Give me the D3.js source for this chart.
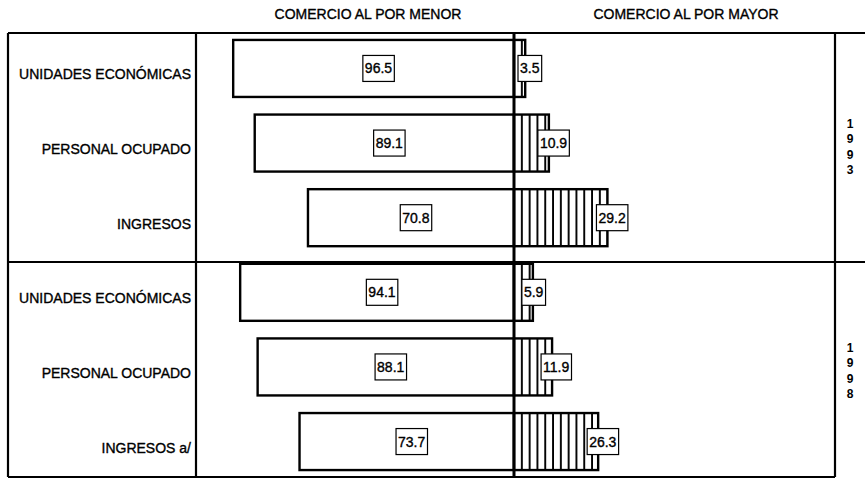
<!DOCTYPE html>
<html lang="es">
<head>
    <meta charset="UTF-8">
    <script src="https://d3js.org/d3.v7.min.js"></script>
    <style>
        body { margin: 0; background: #fff; }
        text { font-family: "Liberation Sans", Arial, sans-serif; fill: #000; stroke: #000; stroke-width: 0.35px; }
    </style>
</head>
<body>
    <div id="chart"></div>

    <script>
        // data
        var rowLabels = ["UNIDADES ECONÓMICAS", "PERSONAL OCUPADO", "INGRESOS",
                         "UNIDADES ECONÓMICAS", "PERSONAL OCUPADO", "INGRESOS a/"];
        var rowYears = ["1993", "1993", "1993", "1998", "1998", "1998"];
        var years = ["1993", "1998"];
        var porMenor = [96.5, 89.1, 70.8, 94.1, 88.1, 73.7];
        var porMayor = [3.5, 10.9, 29.2, 5.9, 11.9, 26.3];
        var headers = ["COMERCIO AL POR MENOR", "COMERCIO AL POR MAYOR"];

        var width = 865, height = 480;
        var frame = { left: 8, top: 33, right: 835, bottom: 477, labelEdge: 196 };
        var axisX = 514;

        var rows = rowLabels.map(function (d, i) {
            return { id: i, label: d, year: rowYears[i], menor: porMenor[i], mayor: porMayor[i] };
        });

        var svg = d3.select("#chart")
            .append("svg")
            .attr("width", width)
            .attr("height", height);

        // vertical stripes for the wholesale bars
        var pattern = svg.append("defs").append("pattern")
            .attr("id", "stripes")
            .attr("patternUnits", "userSpaceOnUse")
            .attr("x", axisX + 1)
            .attr("width", 7.8)
            .attr("height", 10);
        pattern.append("rect").attr("width", 7.8).attr("height", 10).attr("fill", "#fff");
        pattern.append("line")
            .attr("x1", 7).attr("x2", 7).attr("y1", 0).attr("y2", 10)
            .attr("stroke", "#000").attr("stroke-width", 2.2);

        var y = d3.scaleBand()
            .domain(rows.map(function (d) { return d.id; }))
            .range([frame.top, frame.bottom])
            .paddingInner(0.236)
            .paddingOuter(0.093);

        var xLeft = d3.scaleLinear().domain([0, 100]).range([axisX, axisX - 291]);
        var xRight = d3.scaleLinear().domain([0, 100]).range([axisX, axisX + 320]);

        // header texts
        svg.selectAll(".header")
            .data(headers)
            .enter().append("text")
            .attr("x", function (d, i) { return i === 0 ? 368 : 686; })
            .attr("y", 19)
            .attr("text-anchor", "middle")
            .style("font-size", "14px")
            .text(function (d) { return d; });

        // left (retail) bars
        svg.selectAll(".menor")
            .data(rows)
            .enter().append("rect")
            .attr("x", function (d) { return xLeft(d.menor); })
            .attr("y", function (d) { return y(d.id); })
            .attr("width", function (d) { return axisX - xLeft(d.menor); })
            .attr("height", y.bandwidth())
            .attr("fill", "#fff")
            .attr("stroke", "#000")
            .attr("stroke-width", 2.4);

        // right (wholesale) bars
        svg.selectAll(".mayor")
            .data(rows)
            .enter().append("rect")
            .attr("x", axisX)
            .attr("y", function (d) { return y(d.id); })
            .attr("width", function (d) { return xRight(d.mayor) - axisX; })
            .attr("height", y.bandwidth())
            .attr("fill", "url(#stripes)")
            .attr("stroke", "#000")
            .attr("stroke-width", 2.4);

        // frame lines
        var lines = [
            [frame.left, frame.top, width, frame.top],
            [frame.left, 262, width, 262],
            [frame.left, frame.bottom, frame.right, frame.bottom],
            [frame.left, frame.top, frame.left, frame.bottom],
            [frame.labelEdge, frame.top, frame.labelEdge, frame.bottom],
            [frame.right, frame.top, frame.right, frame.bottom]
        ];
        svg.selectAll(".frame")
            .data(lines)
            .enter().append("line")
            .attr("x1", function (d) { return d[0]; })
            .attr("y1", function (d) { return d[1]; })
            .attr("x2", function (d) { return d[2]; })
            .attr("y2", function (d) { return d[3]; })
            .attr("stroke", "#000")
            .attr("stroke-width", 2.2);

        svg.append("line")
            .attr("x1", axisX).attr("x2", axisX)
            .attr("y1", frame.top).attr("y2", frame.bottom)
            .attr("stroke", "#000")
            .attr("stroke-width", 3);

        // row labels
        svg.selectAll(".rowlabel")
            .data(rows)
            .enter().append("text")
            .attr("x", 191)
            .attr("y", function (d) { return y(d.id) + y.bandwidth() / 2 + 11; })
            .attr("text-anchor", "end")
            .style("font-size", "14px")
            .text(function (d) { return d.label; });

        // boxed value labels
        function valueBox(cx, cy, txt, anchorLeft) {
            var g = svg.append("g");
            var t = g.append("text")
                .attr("y", cy + 5)
                .style("font-size", "14px")
                .text(txt);
            var w = t.node().getBBox().width + 4;
            var x0 = anchorLeft ? cx : cx - w / 2;
            t.attr("x", x0 + 2);
            g.insert("rect", "text")
                .attr("x", x0)
                .attr("y", cy - 13)
                .attr("width", w)
                .attr("height", 26)
                .attr("fill", "#fff")
                .attr("stroke", "#000")
                .attr("stroke-width", 1.2);
        }

        rows.forEach(function (d) {
            var cy = y(d.id) + y.bandwidth() / 2;
            valueBox((xLeft(d.menor) + axisX) / 2 + 5, cy, d.menor.toFixed(1), false);
            valueBox(Math.max(xRight(d.mayor) - 11, axisX + 4), cy, d.mayor.toFixed(1), true);
        });

        // year labels, one digit per line
        years.forEach(function (yr) {
            var ids = rows.filter(function (d) { return d.year === yr; }).map(function (d) { return d.id; });
            var mid = (y(ids[0]) + y(ids[ids.length - 1]) + y.bandwidth()) / 2;
            yr.split("").forEach(function (ch, j) {
                svg.append("text")
                    .attr("x", 850)
                    .attr("y", mid - 15 + j * 15.3)
                    .attr("text-anchor", "middle")
                    .style("font-size", "12px")
                    .style("font-weight", "bold")
                    .style("stroke-width", "0px")
                    .text(ch);
            });
        });
    </script>
</body>
</html>
